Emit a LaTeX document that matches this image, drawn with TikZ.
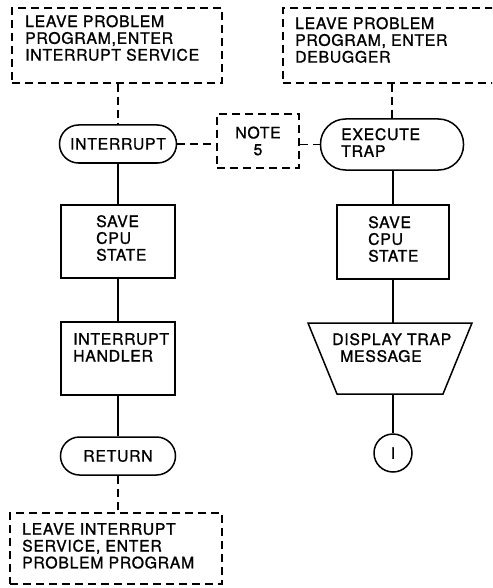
\documentclass[tikz,border=0pt]{standalone}
\usepackage{fontspec}
\setmainfont[LetterSpace=4.5,FakeBold=1.2]{TeX Gyre Heros}
\begin{document}
\begin{tikzpicture}[x=1pt,y=-1pt,
  every node/.style={font=\fontsize{15.8}{16.8}\selectfont},
  ln/.style={line width=1.5pt},
  dsh/.style={line width=1.5pt,dash pattern=on 8pt off 5pt},
  dbox/.style={dsh,draw,rectangle,inner sep=0pt},
  pbox/.style={ln,draw,rectangle,inner sep=0pt},
  term/.style={ln,draw,rectangle,inner sep=0pt,align=center},
  txt/.style={anchor=north west,inner sep=0pt,align=left}]
\useasboundingbox (0,0) rectangle (492,588);
\clip (0,0) rectangle (492,588);
% left column shapes
\node[dbox,minimum width=210pt,minimum height=75pt] (tl) at (117,45.5) {};
\node[term,rounded corners=19pt,minimum width=117pt,minimum height=38pt] (intr) at (118,144) {INTERRUPT};
\node[dbox,minimum width=82pt,minimum height=54pt,align=center] (note) at (258,141) {NOTE\\5};
\node[pbox,minimum width=114pt,minimum height=73pt] (lsave) at (118,241.5) {};
\node[pbox,minimum width=114pt,minimum height=73pt] (hand) at (118,358.5) {};
\node[term,rounded corners=19pt,minimum width=115pt,minimum height=38pt] (ret) at (118,456) {RETURN};
\node[dbox,minimum width=212pt,minimum height=71pt] (bot) at (116,548.5) {};
% right column shapes
\node[dbox,minimum width=217pt,minimum height=75pt] (tr) at (391.5,45.5) {};
\node[term,rounded corners=25pt,minimum width=143pt,minimum height=51pt] (exec) at (392,144.5) {};
\node[pbox,minimum width=112pt,minimum height=74pt] (rsave) at (393,242) {};
\draw[ln] (308,323) -- (472,323) -- (443,394) -- (337,394) -- cycle;
\coordinate (dtop) at (393,323);
\coordinate (dbot) at (393,394);
\node[ln,draw,circle,minimum size=38pt,inner sep=0pt] (conn) at (393,453) {I};
% texts
\node[txt] (tltxt) at (25,15) {LEAVE PROBLEM\\PROGRAM,ENTER\\INTERRUPT SERVICE};
\node[txt] (trtxt) at (295,17) {LEAVE PROBLEM\\PROGRAM, ENTER\\DEBUGGER};
\node[txt] (extxt) at (341,128) {EXECUTE\\TRAP};
\node[txt] (lstxt) at (96,215) {SAVE\\CPU\\STATE};
\node[txt] (rstxt) at (368,216) {SAVE\\CPU\\STATE};
\node[txt] (hdtxt) at (73,333) {INTERRUPT\\HANDLER};
\node[txt] (dptxt) at (332,333) {DISPLAY TRAP\\\hspace*{8pt}MESSAGE};
\node[txt] (bttxt) at (22,523) {LEAVE INTERRUPT\\SERVICE, ENTER\\PROBLEM PROGRAM};
% connectors
\draw[dsh] (intr.north |- tl.south) -- (intr.north);
\draw[dsh] (intr.east) -- (intr.east -| note.west);
\draw[dsh] (note.east |- exec.west) -- (exec.west);
\draw[dsh] (exec.north |- tr.south) -- (exec.north);
\draw[ln] (intr.south) -- (lsave.north);
\draw[ln] (lsave.south) -- (hand.north);
\draw[ln] (hand.south) -- (ret.north);
\draw[dsh] (ret.south) -- (ret.south |- bot.north);
\draw[ln] (rsave.north |- exec.south) -- (rsave.north);
\draw[ln] (rsave.south) -- (dtop);
\draw[ln] (dbot) -- (conn.north);
\end{tikzpicture}
\end{document}
